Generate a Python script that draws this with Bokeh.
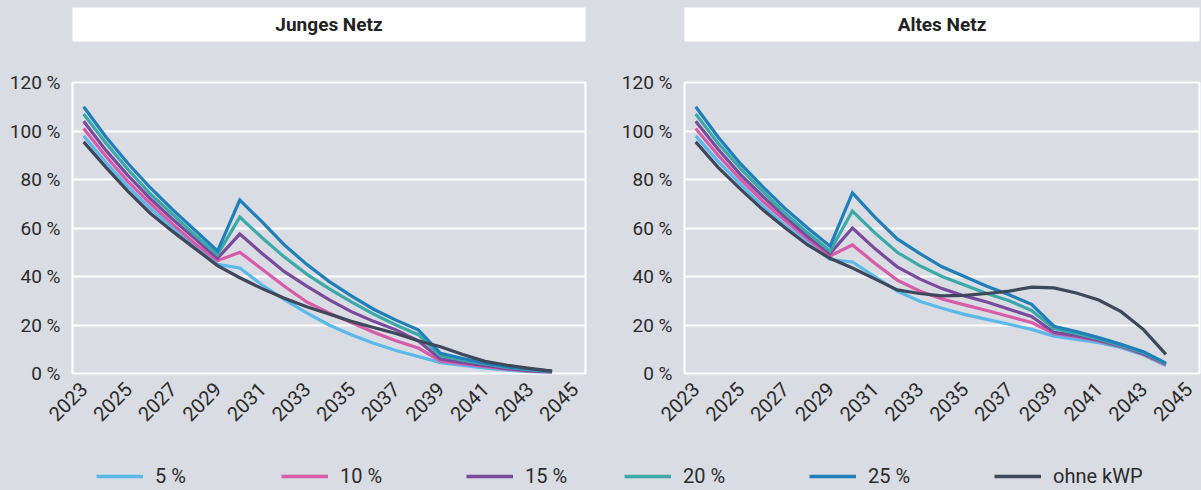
import math
from bokeh.plotting import figure
from bokeh.models import Range1d, FixedTicker, Label, Legend, LegendItem
from bokeh.layouts import row, column
from bokeh.embed import file_html
from bokeh.resources import INLINE

# ---------------- data ----------------
years = [2023, 2024, 2025, 2026, 2027, 2028, 2029, 2030, 2031, 2032, 2033,
         2034, 2035, 2036, 2037, 2038, 2039, 2040, 2041, 2042, 2043, 2044]
tick_years = [2023, 2025, 2027, 2029, 2031, 2033, 2035, 2037, 2039, 2041, 2043, 2045]
tick_labels = [str(y) for y in tick_years]
y_ticks = [0, 20, 40, 60, 80, 100, 120]
y_tick_labels = ["0 %", "20 %", "40 %", "60 %", "80 %", "100 %", "120 %"]

series_names = ["5 %", "10 %", "15 %", "20 %", "25 %", "ohne kWP"]
series_colors = ["#5ab9e9", "#d65ba8", "#7a4b9c", "#3ca9a9", "#1f7fb6", "#3f475a"]
panel_titles = ["Junges Netz", "Altes Netz"]

# Junges Netz
jn_5 = [98, 87, 77, 68, 60, 52, 45, 43.5, 36.5, 30.5, 25, 20, 16, 12.5, 9.5, 7, 4.5, 3.3, 2.2, 1.4, 0.8, 0.3]
jn_10 = [101, 89.5, 79, 70, 61.5, 53.5, 46.5, 50, 43, 36, 29.5, 25, 21, 17, 13.5, 10.5, 5.2, 4, 2.8, 1.8, 1, 0.5]
jn_15 = [104, 92, 81.5, 72, 63.5, 55.5, 47.5, 57.5, 49.5, 42, 36, 30.5, 25.5, 21.5, 18, 13.5, 6, 4.5, 3.2, 2, 1.2, 0.6]
jn_20 = [107, 95, 84, 74, 65.5, 57, 49, 64.5, 56, 48, 41, 35, 29.5, 24.5, 20, 16, 7.3, 5.5, 3.9, 2.5, 1.5, 0.8]
jn_25 = [110, 97.5, 86.5, 76.5, 67.5, 59, 50.5, 71.5, 62.5, 53, 45, 38, 32, 26.5, 22, 18, 8.3, 6.2, 4.3, 2.8, 1.8, 1]
jn_ohne = [95.5, 85, 75, 66, 58.5, 51.5, 44.5, 39.5, 35, 31, 27.5, 24.5, 21.5, 19, 16.5, 13.5, 11, 7.8, 5.0, 3.4, 2.1, 1.0]

# Altes Netz
an_5 = [98, 87.5, 78, 69, 61, 54, 47, 46, 40, 34, 29.8, 26.9, 24.4, 22.3, 20.3, 18.2, 15.4, 14.1, 12.7, 10.6, 7.6, 3.3]
an_10 = [101, 90, 80, 71, 63, 55.5, 48.5, 53, 45.5, 38.5, 34, 30.7, 28.3, 26, 23.5, 21, 16.5, 15.2, 13.4, 11, 7.9, 3.6]
an_15 = [104, 92.5, 82, 73, 64.5, 56.5, 49.5, 60, 51.5, 44, 39, 35, 32, 29.5, 26.5, 23.5, 17, 15.6, 13.7, 11.3, 8.1, 3.9]
an_20 = [107, 95, 84.5, 75, 66, 58, 50.5, 67, 58, 50, 44.5, 40, 36.5, 33, 30, 26, 18.5, 16.5, 14.2, 11.5, 8.6, 4]
an_25 = [110, 97.5, 86.5, 77, 68, 60, 52.5, 74.5, 64.5, 55.5, 49.5, 44, 40, 36, 32.5, 28.5, 19.5, 17.3, 14.8, 12, 9, 4.3]
an_ohne = [95.5, 85, 76, 67.5, 60, 53, 47.5, 43.5, 39, 34.5, 33, 32, 32.2, 33, 34, 35.6, 35.3, 33.2, 30.3, 25.5, 18.1, 7.9]

junges = [jn_5, jn_10, jn_15, jn_20, jn_25, jn_ohne]
altes = [an_5, an_10, an_15, an_20, an_25, an_ohne]

# ---------------- style ----------------
BG = "#d9dce3"
TXT = "#2b2b2b"
FONT = "Roboto"


def make_title(text, width, bl, br):
    t = figure(width=width, height=48, x_range=Range1d(0, 1), y_range=Range1d(0, 1),
               x_axis_type=None, y_axis_type=None, toolbar_location=None,
               output_backend="svg", min_border_left=bl, min_border_right=br,
               min_border_top=7, min_border_bottom=7,
               background_fill_color="white", border_fill_color=BG,
               outline_line_color=None)
    t.xgrid.grid_line_color = None
    t.ygrid.grid_line_color = None
    t.add_layout(Label(x=0.5, y=0.5, text=text, text_align="center",
                       text_baseline="middle", text_font=FONT,
                       text_font_size="19px", text_font_style="bold",
                       text_color="#222222"))
    return t


def make_panel(series, width, bl, br):
    p = figure(width=width, height=402, x_range=Range1d(2022.5, 2045.5),
               y_range=Range1d(0, 120), toolbar_location=None,
               output_backend="svg", min_border_left=bl, min_border_right=br,
               min_border_top=34, min_border_bottom=77,
               background_fill_color=BG, border_fill_color=BG,
               outline_line_color="white", outline_line_width=2)
    p.xaxis.ticker = FixedTicker(ticks=tick_years)
    p.xaxis.major_label_overrides = dict(zip(tick_years, tick_labels))
    p.xaxis.major_label_orientation = math.pi / 4
    p.yaxis.ticker = FixedTicker(ticks=y_ticks)
    p.yaxis.major_label_overrides = dict(zip(y_ticks, y_tick_labels))
    for ax in (p.xaxis, p.yaxis):
        ax.axis_line_color = None
        ax.major_tick_line_color = None
        ax.minor_tick_line_color = None
        ax.major_tick_out = 0
        ax.major_tick_in = 0
        ax.minor_tick_out = 0
        ax.minor_tick_in = 0
        ax.major_label_text_font = FONT
        ax.major_label_text_color = TXT
    p.yaxis.major_label_text_font_size = "19px"
    p.xaxis.major_label_text_font_size = "20px"
    p.yaxis.major_label_standoff = 12
    p.xaxis.major_label_standoff = 12
    p.xgrid.grid_line_color = None
    p.ygrid.grid_line_color = "white"
    p.ygrid.grid_line_width = 2
    for vals, col in zip(series, series_colors):
        p.line(years, vals, line_color=col, line_width=3.2, line_join="miter")
    return p


t1 = make_title(panel_titles[0], 612, 72, 27)
p1 = make_panel(junges, 612, 72, 27)
t2 = make_title(panel_titles[1], 589, 72, 2)
p2 = make_panel(altes, 589, 72, 2)

# legend strip (its sample lines use the series data, kept outside the visible range)
leg = figure(width=1201, height=40, x_range=Range1d(0, 1), y_range=Range1d(1000, 1001),
             x_axis_type=None, y_axis_type=None, toolbar_location=None,
             output_backend="svg", min_border=0,
             background_fill_color=BG, border_fill_color=BG, outline_line_color=None)
leg.xgrid.grid_line_color = None
leg.ygrid.grid_line_color = None
rends = [leg.line(years, vals, line_color=c, line_width=3.5)
         for vals, c in zip(junges, series_colors)]


def make_legend(idx, loc):
    return Legend(items=[LegendItem(label=series_names[i], renderers=[rends[i]]) for i in idx],
                  location=loc, orientation="horizontal", padding=0, margin=0,
                  spacing=6, glyph_width=47, glyph_height=20, label_standoff=12,
                  label_width=120, label_text_font=FONT, label_text_font_size="20px",
                  label_text_color=TXT, background_fill_alpha=0,
                  border_line_color=None)


leg.add_layout(make_legend([0, 1, 2], (96, 2)))
leg.add_layout(make_legend([3, 4, 5], (624, 2)))

layout = column(row(column(t1, p1), column(t2, p2)), leg)

html = file_html(layout, INLINE)
html = html.replace("</head>", "<style>html, body { background-color: #d9dce3; }</style></head>", 1)
open("out.html", "w").write(html)
